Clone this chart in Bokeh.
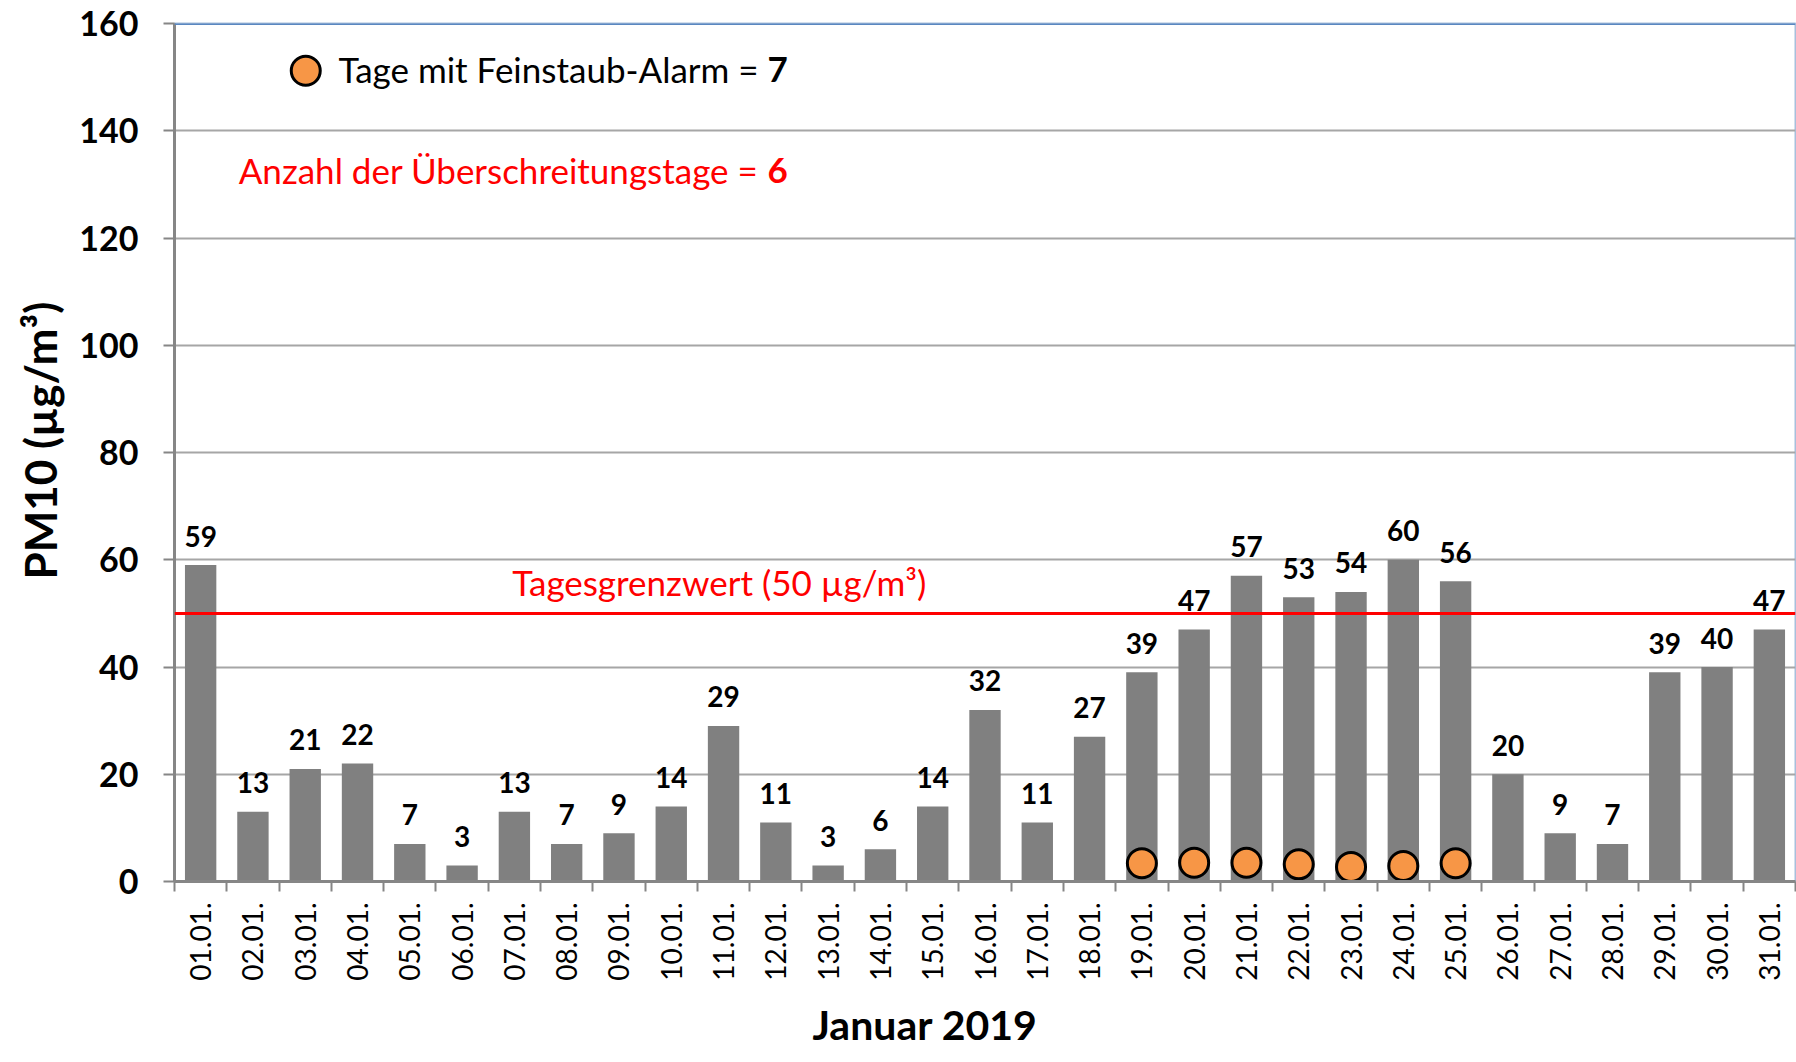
import numpy as np
from bokeh.plotting import figure
from bokeh.models import Range1d, FixedTicker, Span, Label, ColumnDataSource, Title
from bokeh.core.properties import value
from bokeh.embed import file_html
from bokeh.resources import INLINE

# ---------------- data ----------------
days = ["01.01.", "02.01.", "03.01.", "04.01.", "05.01.", "06.01.", "07.01.", "08.01.",
        "09.01.", "10.01.", "11.01.", "12.01.", "13.01.", "14.01.", "15.01.", "16.01.",
        "17.01.", "18.01.", "19.01.", "20.01.", "21.01.", "22.01.", "23.01.", "24.01.",
        "25.01.", "26.01.", "27.01.", "28.01.", "29.01.", "30.01.", "31.01."]
pm10 = [59, 13, 21, 22, 7, 3, 13, 7, 9, 14, 29, 11, 3, 6, 14, 32,
        11, 27, 39, 47, 57, 53, 54, 60, 56, 20, 9, 7, 39, 40, 47]
alarm_days = ["19.01.", "20.01.", "21.01.", "22.01.", "23.01.", "24.01.", "25.01."]
alarm_marker_y = [3.4, 3.5, 3.5, 3.2, 2.7, 2.9, 3.4]
limit_value = 50
y_ticks = [0, 20, 40, 60, 80, 100, 120, 140, 160]
alarm_count = 7
exceed_count = 6
x_title = "Januar 2019"
y_title = "PM10 (µg/m³)"

# ---------------- styling ----------------
FONT = "Lato"
BAR = "#808080"
GRID = "#a6a6a6"
AXIS = "#868686"
ORANGE = "#F79646"
RED = "#FF0000"

W, H = 1796, 1062
n = len(days)
xs = np.arange(n) + 0.5
idx = {d: i for i, d in enumerate(days)}
alarm_x = [xs[idx[d]] for d in alarm_days]

p = figure(width=W, height=H, output_backend="svg", toolbar_location=None,
           x_range=Range1d(0, n), y_range=Range1d(0, 160),
           min_border_left=174, min_border_right=1, min_border_top=23,
           min_border_bottom=181, background_fill_color="white",
           border_fill_color="white")
p.outline_line_color = "#a8bfdc"
p.outline_line_width = 2

# bars
p.vbar(x=xs, top=pm10, width=0.6, fill_color=BAR, line_color=None)

# value labels
p.text(x=xs, y=pm10, text=[str(v) for v in pm10], text_align="center",
       text_baseline="alphabetic", y_offset=-29, text_font=value(FONT),
       text_font_style="bold", text_font_size="28px", text_color="black")

# alarm markers
p.scatter(x=alarm_x, y=alarm_marker_y, size=29, marker="circle",
          fill_color=ORANGE, line_color="black", line_width=3)

# limit line and top border
p.add_layout(Span(location=limit_value, dimension="width", line_color=RED, line_width=3))
p.add_layout(Span(location=y_ticks[-1], dimension="width", line_color="#5a87c0", line_width=3))

# grids
p.xgrid.visible = False
p.ygrid.ticker = FixedTicker(ticks=y_ticks)
p.ygrid.grid_line_color = GRID
p.ygrid.grid_line_width = 2

# x axis
p.xaxis.ticker = FixedTicker(ticks=list(xs), minor_ticks=list(range(n + 1)))
p.xaxis.major_label_overrides = {float(x): d for x, d in zip(xs, days)}
p.xaxis.major_label_orientation = np.pi / 2
p.xaxis.major_tick_line_color = None
p.xaxis.major_tick_out = 10
p.xaxis.major_tick_in = 0
p.xaxis.minor_tick_line_color = AXIS
p.xaxis.minor_tick_line_width = 2
p.xaxis.minor_tick_out = 10
p.xaxis.minor_tick_in = 0
p.xaxis.axis_line_color = AXIS
p.xaxis.axis_line_width = 3
p.xaxis.major_label_standoff = 11
p.xaxis.major_label_text_font = FONT
p.xaxis.major_label_text_font_size = "28px"
p.xaxis.major_label_text_color = "black"

# y axis
p.yaxis.ticker = FixedTicker(ticks=y_ticks)
p.yaxis.minor_tick_line_color = None
p.yaxis.major_tick_out = 11
p.yaxis.major_tick_in = 0
p.yaxis.major_tick_line_color = AXIS
p.yaxis.major_tick_line_width = 2
p.yaxis.axis_line_color = AXIS
p.yaxis.axis_line_width = 3
p.yaxis.major_label_standoff = 25
p.yaxis.major_label_text_font = FONT
p.yaxis.major_label_text_font_style = "bold"
p.yaxis.major_label_text_font_size = "34px"
p.yaxis.major_label_text_color = "black"

# axis titles
p.add_layout(Title(text=x_title, align="left", offset=638, standoff=28, text_font=FONT,
                   text_font_style="bold", text_font_size="41px", text_color="black"),
             "below")
p.add_layout(Title(text=y_title, align="left", offset=302, standoff=22, text_font=FONT,
                   text_font_style="bold", text_font_size="44px", text_color="black"),
             "left")

# legend-like annotations
legend_key = dict(x=[2.51], y=[151.2])
p.scatter(x="x", y="y", source=ColumnDataSource(legend_key), size=29, marker="circle",
          fill_color=ORANGE, line_color="black", line_width=3)
p.add_layout(Label(x=11.17, y=151.5, text="Tage mit Feinstaub-Alarm =", text_align="right",
                   text_baseline="alphabetic", text_font=FONT, text_font_size="35px",
                   text_color="black"))
p.add_layout(Label(x=11.34, y=151.5, text=str(alarm_count), text_align="left",
                   text_baseline="alphabetic", text_font=FONT, text_font_style="bold",
                   text_font_size="35px", text_color="black"))
p.add_layout(Label(x=11.17, y=132.6, text="Anzahl der Überschreitungstage =", text_align="right",
                   text_baseline="alphabetic", text_font=FONT, text_font_size="35px",
                   text_color=RED))
p.add_layout(Label(x=11.34, y=132.6, text=str(exceed_count), text_align="left",
                   text_baseline="alphabetic", text_font=FONT, text_font_style="bold",
                   text_font_size="35px", text_color=RED))
p.add_layout(Label(x=10.42, y=55.8, text=f"Tagesgrenzwert ({limit_value} µg/m³)",
                   text_align="center", text_baseline="alphabetic", text_font=FONT,
                   text_font_size="35px", text_color=RED))

open("out.html", "w").write(file_html(p, INLINE))
